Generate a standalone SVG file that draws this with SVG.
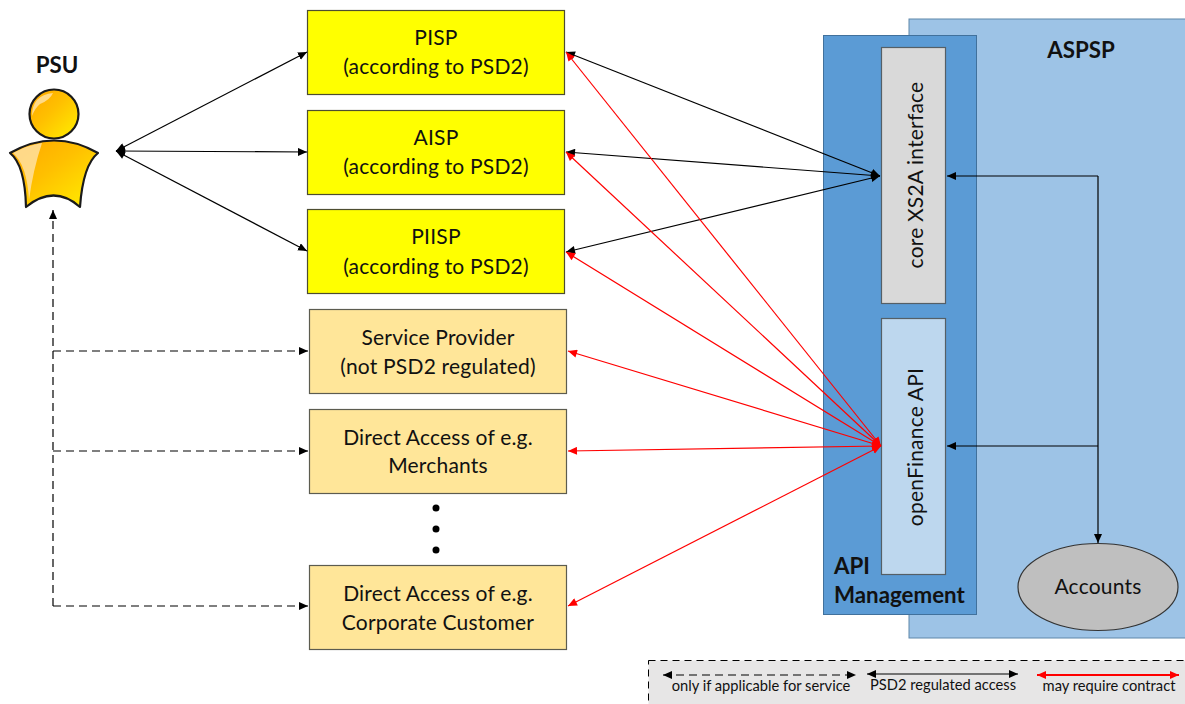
<svg xmlns="http://www.w3.org/2000/svg" width="1185" height="704" viewBox="0 0 1185 704">
<style>
text{font-family:Lato,"Open Sans","Liberation Sans",sans-serif;fill:#111;text-anchor:middle}
.t{font-size:21px;letter-spacing:.2px}
.b{font-weight:700;font-size:22.300px}
.y{fill:#ffff00;stroke:#4d4d30;stroke-width:1.2}
.o{fill:#ffe699;stroke:#5c5c50;stroke-width:1.2}
.k{stroke:#000;stroke-width:1.2;fill:none;marker-start:url(#ks);marker-end:url(#ke)}
.k1{stroke:#000;stroke-width:1.2;fill:none;marker-end:url(#ke)}
.d{stroke:#000;stroke-width:1.2;fill:none;stroke-dasharray:8 5;marker-end:url(#ke)}
.r{stroke:#ff0000;stroke-width:1.2;fill:none;marker-start:url(#rs);marker-end:url(#re)}
.l{font-size:14.700px}
</style>
<defs>
<marker id="ke" markerUnits="userSpaceOnUse" markerWidth="10" markerHeight="10" refX="9" refY="4" orient="auto"><path d="M0 0L9 4L0 8z" fill="#000"/></marker>
<marker id="ks" markerUnits="userSpaceOnUse" markerWidth="10" markerHeight="10" refX="0" refY="4" orient="auto"><path d="M9 0L0 4L9 8z" fill="#000"/></marker>
<marker id="re" markerUnits="userSpaceOnUse" markerWidth="10" markerHeight="10" refX="9" refY="4" orient="auto"><path d="M0 0L9 4L0 8z" fill="#f00"/></marker>
<marker id="rs" markerUnits="userSpaceOnUse" markerWidth="10" markerHeight="10" refX="0" refY="4" orient="auto"><path d="M9 0L0 4L9 8z" fill="#f00"/></marker>
<linearGradient id="g" x1="0" y1="0" x2="1" y2="1"><stop offset="0" stop-color="#ffa500"/><stop offset="0.45" stop-color="#ffc000"/><stop offset="1" stop-color="#fff000"/></linearGradient>
</defs>

<g id="aspsp"><rect x="909" y="19" width="290" height="619" fill="#9dc3e6" stroke="#5f87aa" stroke-width="1"/>
<text x="1081" y="58" class="b">ASPSP</text></g>
<g id="api-management"><rect x="823.500" y="35.500" width="153" height="579" fill="#5b9bd5" stroke="#41719c" stroke-width="1"/>
<text x="834" y="574" class="b" style="text-anchor:start">API</text>
<text x="834" y="603" class="b" style="text-anchor:start">Management</text></g>
<g id="core-xs2a"><rect x="881.500" y="47.500" width="64" height="256" fill="#d9d9d9" stroke="#555f66" stroke-width="1.2"/>
<text class="t" transform="translate(923 175) rotate(-90)">core XS2A interface</text></g>
<g id="openfinance"><rect x="881.500" y="318.500" width="64" height="256" fill="#bdd7ee" stroke="#555f66" stroke-width="1.2"/>
<text class="t" transform="translate(923 447) rotate(-90)">openFinance API</text></g>
<g id="accounts"><ellipse cx="1098" cy="587" rx="80" ry="43.500" fill="#bfbfbf" stroke="#333" stroke-width="1.2"/>
<text x="1098" y="594" class="t">Accounts</text></g>

<g id="psu">
<text x="57" y="73" class="b">PSU</text>
<circle cx="54" cy="114" r="24.500" fill="url(#g)" stroke="#1a1a1a" stroke-width="2.200"/>
<path d="M10 153Q54 128 98 153Q83 165 80 207Q54 184 26 207Q25 165 10 153z" fill="url(#g)" stroke="#1a1a1a" stroke-width="2.200" stroke-linejoin="round"/>
<path d="M32 116Q32 95 53 93Q50 100 40 104Q35 108 32 116z" fill="#ffe0a0" opacity="0.85"/>
<path d="M13 153Q28 145 42 143Q33 170 29 200Q27 165 13 153z" fill="#ffe0a0" opacity="0.85"/>
</g>

<g id="pisp"><rect x="307.500" y="10.500" width="257" height="84" class="y"/><text x="436" y="45" class="t">PISP</text><text x="436" y="74" class="t">(according to PSD2)</text></g>
<g id="aisp"><rect x="307.500" y="110.500" width="257" height="84" class="y"/><text x="436" y="145" class="t">AISP</text><text x="436" y="174" class="t">(according to PSD2)</text></g>
<g id="piisp"><rect x="307.500" y="209.500" width="257" height="84" class="y"/><text x="436" y="244" class="t">PIISP</text><text x="436" y="274" class="t">(according to PSD2)</text></g>
<g id="service-provider"><rect x="309.500" y="309.500" width="257" height="84" class="o"/><text x="438" y="345" class="t">Service Provider</text><text x="438" y="374" class="t">(not PSD2 regulated)</text></g>
<g id="merchants"><rect x="309.500" y="409.500" width="257" height="84" class="o"/><text x="438" y="445" class="t">Direct Access of e.g.</text><text x="438" y="473" class="t">Merchants</text></g>
<g id="corporate"><rect x="309.500" y="565.500" width="257" height="84" class="o"/><text x="438" y="601" class="t">Direct Access of e.g.</text><text x="438" y="630" class="t">Corporate Customer</text></g>
<g id="ellipsis" fill="#000"><circle cx="436" cy="508" r="3.500"/><circle cx="436" cy="529" r="3.500"/><circle cx="436" cy="550" r="3.500"/></g>

<g id="connectors">
<path class="k" d="M116 151L307 52"/>
<path class="k" d="M116 151L307 152"/>
<path class="k" d="M116 151L307 251"/>
<path class="d" d="M53 606V210"/>
<path class="d" d="M53 351H308"/>
<path class="d" d="M53 451H308"/>
<path class="d" d="M53 606H308"/>
<path class="k" d="M566 52L880 176"/>
<path class="k" d="M566 152L880 176"/>
<path class="k" d="M566 252L880 176"/>
<path class="r" d="M566 52L881 446"/>
<path class="r" d="M566 152L881 446"/>
<path class="r" d="M566 252L881 446"/>
<path class="r" d="M568 351L881 446"/>
<path class="r" d="M568 451L881 446"/>
<path class="r" d="M568 606L881 446"/>
<path class="k1" d="M1098 176H947"/>
<path class="k1" d="M1098 446H947"/>
<path class="k1" d="M1098 176V543"/>
</g>

<g id="legend">
<rect x="648.500" y="660.500" width="560" height="60" fill="#e7e6e6" stroke="#000" stroke-width="1" stroke-dasharray="7 5"/>
<path class="d" d="M663 675H856" style="marker-start:url(#ks)"/>
<path class="k" d="M867 674H1018"/>
<path class="r" d="M1037 675H1179" style="stroke-width:2"/>
<text x="761" y="691" class="l">only if applicable for service</text>
<text x="943" y="690" class="l">PSD2 regulated access</text>
<text x="1109" y="691" class="l">may require contract</text>
</g>
</svg>
